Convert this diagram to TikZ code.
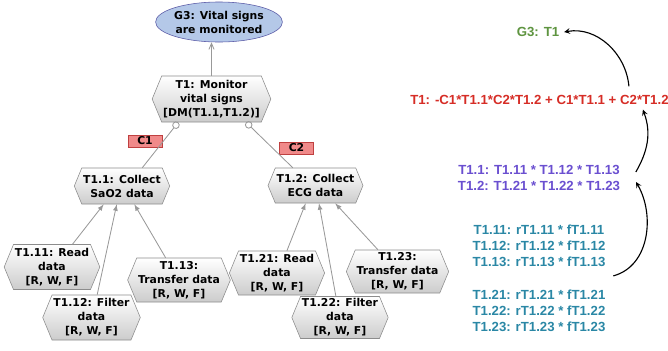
\documentclass[tikz,border=0pt]{standalone}
\usepackage{fontspec}
\setmainfont{Liberation Sans}
\newfontfamily\treefont{DejaVu Sans}
\usepackage{tikz}
\usetikzlibrary{arrows}
\usetikzlibrary{shapes.geometric, shapes.symbols}
\definecolor{goalblue}{RGB}{180,200,232}
\definecolor{ctxred}{RGB}{240,138,138}
\definecolor{eqgreen}{RGB}{94,148,64}
\definecolor{eqred}{RGB}{214,45,38}
\definecolor{eqpurple}{RGB}{106,79,208}
\definecolor{eqteal}{RGB}{42,135,165}
\tikzstyle{goal} = [ellipse, draw=gray!70!blue, fill=goalblue, align=center, inner sep=0pt, font=\treefont\bfseries\fontsize{7.7}{10}\selectfont]
\tikzstyle{task} = [signal, signal to=east and west, signal pointer angle=135, draw=gray!90, top color=white, bottom color=gray!40, align=center, inner sep=1pt, font=\treefont\bfseries\fontsize{7.7}{10}\selectfont]
\tikzstyle{ctx} = [rectangle, draw=red!50!gray, fill=ctxred, inner sep=0pt, minimum width=0.85cm, minimum height=0.3cm, font=\treefont\bfseries\fontsize{7.7}{9}\selectfont]
\tikzstyle{eq} = [align=center, font=\bfseries\fontsize{9.4}{11.4}\selectfont]
\tikzstyle{link} = [draw=gray!80, line width=0.6pt]
\tikzstyle{arrow} = [thick,->,>=stealth]

\begin{document}
\begin{tikzpicture}[x=0.025cm, y=0.025cm]
\useasboundingbox (0,0) rectangle (668,-350);

\node [goal, minimum width=2.45cm, minimum height=1cm] (g3) at (219,-22) {G3: Vital signs\\are monitored};
\node [task, minimum width=2.825cm, minimum height=1.15cm] (t1) at (211.5,-99) {T1: Monitor\\vital signs\\ {[DM(T1.1,T1.2)]}};

\node [ctx] (c1) at (145,-141) {C1};
\node [ctx] (c2) at (296.5,-148) {C2};

\node [task, minimum width=2.3cm, minimum height=0.9cm] (t11) at (122,-186) {T1.1: Collect\\SaO2 data};
\node [task, minimum width=2.225cm, minimum height=0.875cm] (t12) at (315.5,-185.5) {T1.2: Collect\\ECG data};

\node [task, minimum width=2.3cm, minimum height=1.125cm] (t111) at (52,-267) {T1.11: Read\\data\\ {[R, W, F]}};
\node [task, minimum width=2.425cm, minimum height=1.125cm] (t112) at (91.5,-317.5) {T1.12: Filter\\data\\ {[R, W, F]}};
\node [task, minimum width=2.55cm, minimum height=1.1cm] (t113) at (179,-280) {T1.13:\\Transfer data\\ {[R, W, F]}};

\node [task, minimum width=2.2cm, minimum height=1.1cm] (t121) at (277,-273) {T1.21: Read\\data\\ {[R, W, F]}};
\node [task, minimum width=2.4cm, minimum height=1.05cm] (t122) at (340,-317.5) {T1.22: Filter\\data\\ {[R, W, F]}};
\node [task, minimum width=2.475cm, minimum height=1.075cm] (t123) at (397.5,-271.5) {T1.23:\\Transfer data\\ {[R, W, F]}};

% formulas
\node [eq, text=eqgreen] (g3eq) at (538,-32) {G3: T1};
\node [eq, text=eqred, anchor=west, inner xsep=0pt] (t1eq) at (410,-100) {T1: -C1*T1.1*C2*T1.2 + C1*T1.1 + C2*T1.2};
\node [eq, text=eqpurple] (t1xeq) at (539,-178) {T1.1: T1.11 * T1.12 * T1.13\\T1.2: T1.21 * T1.22 * T1.23};
\node [eq, text=eqteal] (t11xeq) at (539,-246) {T1.11: rT1.11 * fT1.11\\T1.12: rT1.12 * fT1.12\\T1.13: rT1.13 * fT1.13};
\node [eq, text=eqteal] (t12xeq) at (539,-311) {T1.21: rT1.21 * fT1.21\\T1.22: rT1.22 * fT1.22\\T1.23: rT1.23 * fT1.23};

\draw [link, -angle 45] (t1.north) to (t1.north |- g3.south);

\draw [link, -o] (t11.42) to (t1.215);
\draw [link, -o] (t12.142) to (t1.326);

\draw [link, -latex] (t111.48) to (t11.225);
\draw [link, -latex] (t112.76) to (t11.254);
\draw [link, -latex] (t113.121) to (t11.304);

\draw [link, -latex] (t121.66) to (t12.241);
\draw [link, -latex] (t122.101) to (t12.281);
\draw [link, -latex] (t123.132) to (t12.318);

\draw [arrow] ([xshift=-1cm,yshift=0.1cm]t1eq.north east) to[out=95, in=10] (g3eq.east);
\draw [arrow] ([xshift=0.27cm,yshift=0.15cm]t1xeq.east) to[out=60, in=-70] ([xshift=-0.65cm]t1eq.south east);
\draw [arrow] ([xshift=0.075cm,yshift=-0.1cm]t11xeq.south east) to[out=15, in=-60] ([xshift=0.275cm,yshift=-0.1cm]t1xeq.east);

\end{tikzpicture}
\end{document}
